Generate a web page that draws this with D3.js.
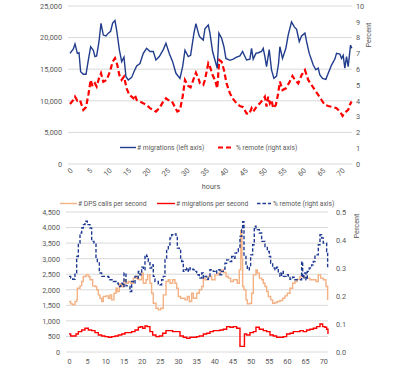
<!DOCTYPE html>
<html><head><meta charset="utf-8">
<script src="https://cdn.jsdelivr.net/npm/d3@7"></script>
<style>
body{margin:0;background:#fff;}
text{font-family:Roboto,"Liberation Sans",sans-serif;fill:#595959;}
</style></head>
<body>
<svg id="c" width="400" height="367"></svg>
<script>
// ---------- Top chart data ----------
const topXTicks = d3.range(0, 75, 5);
const topLeftTicks = [0, 5000, 10000, 15000, 20000, 25000];
const topRightTicks = d3.range(0, 11, 1);
const migHours = [0,0.86,1.29,1.89,2.32,2.74,3.43,4.12,4.72,5.32,6.0,6.43,6.86,7.46,7.98,8.58,9.26,9.86,10.46,10.98,11.58,12.01,12.70,13.30,13.90,14.41,15.01,15.87,16.47,17.16,18.01,18.87,19.73,20.59,21.44,22.13,22.99,24.02,24.70,25.56,26.42,27.28,28.31,29.0,29.6,30.45,31.05,31.91,32.42,33.19,33.45,34.31,34.74,35.60,36.03,36.71,37.31,37.91,38.34,39.03,39.63,40.14,41.17,42.03,42.88,43.74,44.43,45.03,45.46,46.31,46.74,47.17,47.86,48.46,49.31,49.74,50.17,50.60,51.29,51.88,52.49,53.17,53.69,54.03,54.71,55.57,56.17,57.03,57.74,58.34,59.02,59.62,60.48,60.91,61.59,62.19,62.62,63.30,63.90,64.33,65.02,65.87,66.48,67.33,68.19,68.62,69.48,69.91,70.33,70.76,71.19,71.62,72.22,72.56];
const migValues = [17500,18200,19000,17500,17600,14600,14200,14200,16450,18560,18000,17000,17100,19350,22250,20400,20250,20700,21000,22300,22700,21200,18100,16200,16900,13800,13300,13700,14600,15500,15900,17500,18300,17800,17800,16450,17000,18100,19100,17500,16200,14350,13550,15400,18000,17000,17200,20700,22200,20400,20100,19600,21400,22000,20700,17800,16450,15150,20700,19900,18560,16700,16400,16600,16900,17100,17800,17000,16450,16600,18300,16600,17500,17600,17800,18300,17000,15400,18100,14900,13550,13900,15900,18560,16700,18300,20400,22500,21700,21300,19350,20250,20700,19350,17500,16450,15650,14900,15150,14100,13550,13400,14350,15650,16600,17500,17400,16700,17200,15150,17000,15400,18800,18300];
const remHours = [0,0.86,1.29,1.89,2.57,3.43,4.12,4.72,5.32,5.83,6.43,6.86,7.46,7.98,8.58,9.43,10.29,10.98,11.58,12.18,12.70,13.30,13.90,14.58,15.27,15.87,16.30,16.73,17.16,18.01,18.87,19.73,20.59,21.44,22.13,22.99,24.02,24.70,25.30,26.16,27.02,27.62,28.31,29.0,29.6,30.45,31.05,31.74,32.42,33.19,33.45,34.31,34.74,35.60,36.03,36.71,37.31,37.91,38.43,39.03,39.63,40.31,41.17,42.03,42.88,43.74,44.60,45.46,46.14,46.74,47.17,48.03,48.88,49.74,50.17,50.60,51.03,51.46,51.88,52.31,53.0,53.60,54.03,54.71,55.57,56.43,57.29,57.91,58.76,59.62,60.48,61.33,62.19,63.05,63.90,64.76,65.62,66.48,67.76,68.62,69.48,70.17,70.76,71.62,72.05,72.48];
const remValues = [3.80,4.05,4.26,4.0,4.05,3.42,3.6,4.37,5.32,4.9,5.1,4.9,5.42,5.74,5.2,5.32,5.85,6.47,6.69,6.27,5.63,5.32,5.53,4.79,4.37,4.26,4.16,4.37,4.05,3.95,3.84,3.74,3.53,3.42,3.32,3.53,3.95,4.16,4.05,4.0,3.6,3.32,3.42,4.26,5.32,4.94,4.85,5.32,5.78,5.32,5.11,5.0,5.32,6.37,6.16,5.63,5.32,4.79,6.58,6.47,5.95,5.1,4.47,4.1,3.84,3.67,3.6,3.2,3.16,3.53,3.32,3.63,3.84,4.1,4.26,3.63,4.26,3.84,4.05,3.53,3.74,4.47,5.21,4.68,4.79,5.15,5.57,5.32,5.1,5.63,5.95,5.32,5.0,4.68,4.37,4.05,3.74,3.67,3.6,3.53,3.32,3.04,3.25,3.42,3.74,3.95];

// ---------- Bottom chart data ----------
const botXTicks = d3.range(0, 75, 5);
const botLeftTicks = d3.range(0, 5000, 500);
const botRightTicks = [0, 0.1, 0.2, 0.3, 0.4, 0.5];
const dpsHours = [0,0.46,1.01,1.65,2.11,2.29,3.03,3.49,3.94,4.68,5.32,5.78,6.51,7.16,7.61,8.07,8.53,8.99,9.45,10.18,10.83,11.28,11.74,12.39,12.94,13.30,13.85,14.50,15.14,15.69,16.33,16.97,17.71,18.44,18.81,19.36,20.0,20.46,21.19,21.65,22.29,22.75,23.21,23.94,24.59,25.23,25.96,26.70,27.34,27.80,28.53,29.17,29.63,30.09,30.73,31.47,31.93,32.57,33.12,33.76,34.22,35.14,35.87,36.52,36.98,37.44,38.35,39.27,40.19,41.11,41.75,42.48,43.22,43.86,44.50,45.23,45.97,46.33,46.89,47.3,47.6,47.8,48.17,48.72,49.09,49.82,50.28,50.74,51.47,51.84,52.39,53.03,53.49,53.95,54.41,54.87,55.51,56.06,56.70,57.34,58.08,58.81,59.45,60.10,60.83,61.56,62.21,62.85,63.58,64.50,65.42,66.33,67.25,67.99,68.63,69.27,70.00,70.74,71.20];
const dpsValues = [1622,1547,1515,1620,1675,2050,2127,2266,2427,2480,2427,2320,2127,2105,2000,1836,1730,1622,1783,1804,1730,1836,1675,1890,2050,1944,2190,2105,2320,2212,2266,2212,2373,2427,2341,2320,2534,2212,2320,2480,2212,1890,1568,1407,1353,1407,1836,2266,2320,2212,2320,2212,2050,1783,1730,1730,1675,1783,1622,1890,1730,1890,2000,2105,2373,2320,2427,2320,2480,2534,2641,2556,2427,2373,2266,2320,2320,2212,2641,3900,3000,2105,2000,1675,1547,1568,1890,2480,2641,2534,2373,2320,2212,2105,1944,1783,1675,1568,1590,1622,1654,1730,1804,1890,2050,2212,2266,2341,2427,2405,2373,2320,2320,2266,2480,2373,2320,2105,1675];
const mpsHours = [0,0.46,1.93,2.57,3.49,4.40,5.32,6.24,7.16,8.07,8.99,9.91,10.83,11.74,12.66,13.58,14.50,15.41,17.25,18.17,19.08,19.72,20.28,20.92,21.56,22.29,23.03,23.94,24.86,25.78,26.70,28.53,30.55,31.47,32.39,33.30,35.14,35.87,36.98,37.89,38.81,39.73,41.56,42.48,43.40,44.32,45.23,46.15,47.07,48.3,48.90,49.82,50.74,51.47,52.39,53.49,54.41,55.33,56.24,57.16,59.00,59.91,60.83,61.75,63.58,64.50,65.42,66.33,67.25,68.17,69.09,69.82,70.46,70.93,71.29];
const mpsValues = [580,515,580,655,709,762,709,687,623,548,515,494,473,494,515,548,580,623,655,709,795,816,762,838,816,655,548,494,515,601,687,655,515,473,440,473,494,515,580,601,655,687,709,730,816,795,816,762,180,580,548,623,655,795,730,687,655,548,515,473,494,580,601,655,687,655,709,730,762,816,902,816,795,730,580];
const prHours = [0,0.46,1.01,1.65,2.11,2.57,3.03,3.49,3.94,4.40,5.05,5.78,6.24,6.88,7.43,7.80,8.35,8.99,10.83,11.28,12.20,12.94,13.58,14.22,14.77,15.14,15.69,16.33,16.79,17.25,17.71,18.17,18.62,19.08,19.54,20.0,20.46,20.92,21.38,21.83,22.29,22.75,23.21,23.67,24.59,25.05,25.50,25.96,26.42,26.88,27.34,27.80,28.26,28.90,29.45,29.82,30.37,30.73,31.01,31.47,31.93,32.39,32.84,33.30,33.76,34.22,34.68,35.14,35.87,36.06,36.52,36.98,37.44,37.89,38.35,38.81,39.73,40.19,40.65,41.56,42.02,42.48,42.94,43.40,44.32,44.78,45.23,45.69,46.15,46.61,47.07,47.53,47.80,48.17,48.72,49.09,49.64,50.0,50.56,51.01,51.47,51.84,52.39,53.03,53.95,54.59,55.14,55.51,56.06,56.70,57.16,57.62,58.08,58.54,59.00,59.73,60.37,60.83,61.56,62.21,63.58,64.04,64.32,64.68,65.23,65.60,66.15,66.79,67.25,67.71,68.63,69.09,69.55,70.00,70.93,71.20];
const prValues = [0.270,0.264,0.260,0.282,0.341,0.389,0.425,0.443,0.455,0.467,0.455,0.443,0.395,0.389,0.335,0.323,0.282,0.270,0.267,0.258,0.252,0.246,0.234,0.246,0.234,0.282,0.236,0.234,0.216,0.252,0.246,0.270,0.264,0.288,0.276,0.303,0.294,0.347,0.341,0.323,0.300,0.311,0.270,0.252,0.243,0.240,0.258,0.270,0.329,0.365,0.383,0.407,0.419,0.422,0.413,0.371,0.365,0.329,0.323,0.288,0.294,0.300,0.288,0.300,0.296,0.294,0.288,0.276,0.270,0.264,0.282,0.264,0.270,0.260,0.264,0.294,0.288,0.282,0.294,0.276,0.288,0.296,0.317,0.329,0.323,0.341,0.335,0.353,0.359,0.371,0.413,0.437,0.465,0.341,0.311,0.294,0.306,0.347,0.383,0.449,0.443,0.437,0.425,0.395,0.377,0.359,0.341,0.317,0.300,0.294,0.303,0.282,0.270,0.288,0.270,0.276,0.267,0.260,0.267,0.258,0.258,0.323,0.264,0.282,0.258,0.288,0.300,0.311,0.323,0.347,0.383,0.419,0.407,0.389,0.359,0.300];

const svg = d3.select("#c");
const GRID = "#d9d9d9";
const FS = 7.3;
const LFS = 6.7;

// ================= TOP CHART =================
{
  const x = d3.scaleLinear().domain([0, 72.6]).range([70, 352]);
  const yL = d3.scaleLinear().domain([0, 25000]).range([164, 6]);
  const yR = d3.scaleLinear().domain([0, 10]).range([164, 6]);
  const g = svg.append("g");
  g.selectAll("line.grid").data(topLeftTicks).join("line")
    .attr("x1", 68).attr("x2", 352)
    .attr("y1", d => yL(d)).attr("y2", d => yL(d))
    .attr("stroke", GRID).attr("stroke-width", 1);
  const la = g.append("g").attr("transform", "translate(68,0)")
    .call(d3.axisLeft(yL).tickValues(topLeftTicks).tickSize(0).tickPadding(6).tickFormat(d3.format(",")));
  la.select(".domain").remove();
  la.selectAll("text").style("font-size", FS + "px");
  const ra = g.append("g").attr("transform", "translate(352,0)")
    .call(d3.axisRight(yR).tickValues(topRightTicks).tickSize(0).tickPadding(4));
  ra.select(".domain").remove();
  ra.selectAll("text").style("font-size", FS + "px");
  const xa = g.append("g").attr("transform", "translate(0,164)")
    .call(d3.axisBottom(x).tickValues(topXTicks).tickSize(0).tickPadding(0));
  xa.select(".domain").remove();
  xa.selectAll("text").style("font-size", FS + "px")
    .attr("text-anchor", "end").attr("dy", null).attr("y", 0)
    .attr("transform", "translate(3,7) rotate(-45)");
  g.append("text").attr("x", 211).attr("y", 189).attr("text-anchor", "middle")
    .style("font-size", FS + "px").text("hours");
  g.append("text").attr("transform", "translate(371,35) rotate(-90)")
    .attr("text-anchor", "middle").style("font-size", FS + "px").text("Percent");
  const migData = migHours.map((h, i) => [h, migValues[i]]);
  const remData = remHours.map((h, i) => [h, remValues[i]]);
  g.append("path").datum(remData)
    .attr("d", d3.line().x(d => x(d[0])).y(d => yR(d[1])))
    .attr("fill", "none").attr("stroke", "#ff0000").attr("stroke-width", 2.2)
    .attr("stroke-dasharray", "5.5,3");
  g.append("path").datum(migData)
    .attr("d", d3.line().x(d => x(d[0])).y(d => yL(d[1])))
    .attr("fill", "none").attr("stroke", "#203c8c").attr("stroke-width", 1.4);
  g.append("line").attr("x1", 120).attr("x2", 136).attr("y1", 147.5).attr("y2", 147.5)
    .attr("stroke", "#203c8c").attr("stroke-width", 1.4);
  g.append("text").attr("x", 137).attr("y", 150).style("font-size", LFS + "px").text("# migrations (left axis)");
  g.append("line").attr("x1", 218).attr("x2", 234).attr("y1", 147.5).attr("y2", 147.5)
    .attr("stroke", "#ff0000").attr("stroke-width", 2.2).attr("stroke-dasharray", "5,3");
  g.append("text").attr("x", 236).attr("y", 150).style("font-size", LFS + "px").text("% remote (right axis)");
}

// ================= BOTTOM CHART =================
{
  const x = d3.scaleLinear().domain([0, 71.3]).range([69, 328]);
  const yL = d3.scaleLinear().domain([0, 4500]).range([352, 212]);
  const yR = d3.scaleLinear().domain([0, 0.5]).range([352, 212]);
  const g = svg.append("g");
  g.selectAll("line.grid").data(botLeftTicks).join("line")
    .attr("x1", 66).attr("x2", 328)
    .attr("y1", d => yL(d)).attr("y2", d => yL(d))
    .attr("stroke", GRID).attr("stroke-width", 1);
  const la = g.append("g").attr("transform", "translate(66,0)")
    .call(d3.axisLeft(yL).tickValues(botLeftTicks).tickSize(0).tickPadding(6).tickFormat(d3.format(",")));
  la.select(".domain").remove();
  la.selectAll("text").style("font-size", FS + "px");
  const ra = g.append("g").attr("transform", "translate(328,0)")
    .call(d3.axisRight(yR).tickValues(botRightTicks).tickSize(0).tickPadding(8).tickFormat(d3.format(".1f")));
  ra.select(".domain").remove();
  ra.selectAll("text").style("font-size", FS + "px");
  const xa = g.append("g").attr("transform", "translate(0,352)")
    .call(d3.axisBottom(x).tickValues(botXTicks).tickSize(0).tickPadding(7));
  xa.select(".domain").remove();
  xa.selectAll("text").style("font-size", FS + "px");
  g.append("text").attr("transform", "translate(359,226) rotate(-90)")
    .attr("text-anchor", "middle").style("font-size", FS + "px").text("Percent");

  const step = d3.curveStepAfter;
  const dpsData = dpsHours.map((h, i) => [h, dpsValues[i]]);
  const mpsData = mpsHours.map((h, i) => [h, mpsValues[i]]);
  const prData = prHours.map((h, i) => [h, prValues[i]]);
  g.append("path").datum(dpsData)
    .attr("d", d3.line().curve(step).x(d => x(d[0])).y(d => yL(d[1])))
    .attr("fill", "none").attr("stroke", "#f4b183").attr("stroke-width", 1.4);
  g.append("path").datum(mpsData)
    .attr("d", d3.line().curve(step).x(d => x(d[0])).y(d => yL(d[1])))
    .attr("fill", "none").attr("stroke", "#ff0000").attr("stroke-width", 1.4);
  g.append("path").datum(prData)
    .attr("d", d3.line().curve(step).x(d => x(d[0])).y(d => yR(d[1])))
    .attr("fill", "none").attr("stroke", "#1f3a93").attr("stroke-width", 1.4)
    .attr("stroke-dasharray", "3.5,2");
  const ly = 203.5;
  g.append("line").attr("x1", 60).attr("x2", 77).attr("y1", ly).attr("y2", ly)
    .attr("stroke", "#f4b183").attr("stroke-width", 1.4);
  g.append("text").attr("x", 78).attr("y", ly + 2.5).style("font-size", LFS + "px").text("# DPS calls per second");
  g.append("line").attr("x1", 157).attr("x2", 175).attr("y1", ly).attr("y2", ly)
    .attr("stroke", "#ff0000").attr("stroke-width", 1.4);
  g.append("text").attr("x", 176).attr("y", ly + 2.5).style("font-size", LFS + "px").text("# migrations per second");
  g.append("line").attr("x1", 257).attr("x2", 271).attr("y1", ly).attr("y2", ly)
    .attr("stroke", "#1f3a93").attr("stroke-width", 1.4).attr("stroke-dasharray", "3.5,2");
  g.append("text").attr("x", 273).attr("y", ly + 2.5).style("font-size", LFS + "px").text("% remote (right axis)");
}
</script>
</body></html>
